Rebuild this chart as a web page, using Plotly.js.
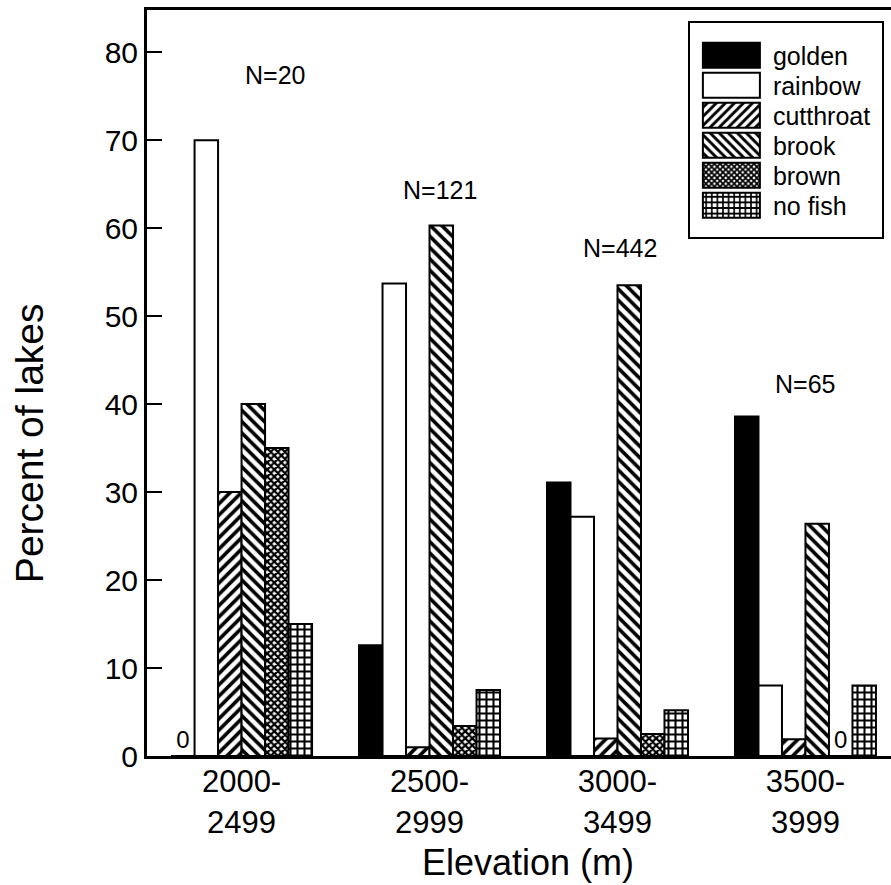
<!DOCTYPE html>
<html><head><meta charset="utf-8">
<script src="https://cdn.plot.ly/plotly-3.0.1.min.js"></script>
<style>html,body{margin:0;padding:0;background:#fff}#chart{width:891px;height:885px}</style>
</head><body><div id="chart"></div>
<script>
// ---- data ----
const categories = ['2000-<br>2499', '2500-<br>2999', '3000-<br>3499', '3500-<br>3999'];
const seriesNames = ['golden', 'rainbow', 'cutthroat', 'brook', 'brown', 'no fish'];
const golden    = [0, 12.6, 31.1, 38.6];
const rainbow   = [70, 53.7, 27.2, 8.0];
const cutthroat = [30, 1.0, 2.0, 1.9];
const brook     = [40, 60.3, 53.5, 26.4];
const brown     = [35, 3.4, 2.5, 0];
const noFish    = [15, 7.5, 5.2, 8.0];
const sampleSizes = ['N=20', 'N=121', 'N=442', 'N=65'];
const yTickVals = [0, 10, 20, 30, 40, 50, 60, 70, 80];

// ---- styling ----
const FONT = '"Liberation Sans", Arial, sans-serif';
const seriesValues = [golden, rainbow, cutthroat, brook, brown, noFish];
const fills = [
  {color: 'black', pattern: null},
  {color: 'white', pattern: null},
  {color: 'white', pattern: {shape: '/', fgcolor: 'black', bgcolor: 'white', size: 8, solidity: 0.45}},
  {color: 'white', pattern: {shape: '\\', fgcolor: 'black', bgcolor: 'white', size: 8, solidity: 0.45}},
  {color: 'white', pattern: {shape: 'x', fgcolor: 'black', bgcolor: 'white', size: 5, solidity: 0.7}},
  {color: 'white', pattern: {shape: '+', fgcolor: 'black', bgcolor: 'white', size: 7, solidity: 0.5}}
];

const traces = seriesNames.map((name, i) => {
  const marker = {color: fills[i].color, line: {color: 'black', width: 2}};
  if (fills[i].pattern) marker.pattern = fills[i].pattern;
  return {
    type: 'bar', name: name, x: categories, y: seriesValues[i],
    marker: marker,
    text: seriesValues[i].map(v => v === 0 ? '0' : ''),
    textposition: 'outside', cliponaxis: false,
    textfont: {family: FONT, size: 24, color: 'black'},
    hoverinfo: 'skip'
  };
});

// N label positions (category index offset, value)
const nLabelPos = [[0.18, 77.4], [1.056, 64.3], [2.013, 57.7], [3.0, 42.3]];
const annotations = sampleSizes.map((t, i) => ({
  x: nLabelPos[i][0], y: nLabelPos[i][1], xref: 'x', yref: 'y', text: t,
  showarrow: false, font: {family: FONT, size: 25, color: 'black'}
}));
annotations.push({
  xref: 'paper', yref: 'paper', x: -0.158, y: 0.42, xanchor: 'center', yanchor: 'middle',
  text: 'Percent of lakes', textangle: -90, showarrow: false,
  font: {family: FONT, size: 39, color: 'black'}
});
annotations.push({
  xref: 'paper', yref: 'paper', x: 0.512, y: -0.143, xanchor: 'center', yanchor: 'middle',
  text: 'Elevation (m)', showarrow: false,
  font: {family: FONT, size: 36, color: 'black'}
});

const layout = {
  width: 891, height: 885,
  margin: {l: 147, r: 0, t: 10, b: 129},
  paper_bgcolor: 'white', plot_bgcolor: 'white',
  font: {family: FONT, color: 'black'},
  barmode: 'group', bargap: 0.25, bargroupgap: 0,
  showlegend: true,
  legend: {
    x: 0.727, y: 0.985, xanchor: 'left', yanchor: 'top',
    bordercolor: 'black', borderwidth: 2, bgcolor: 'white',
    font: {family: FONT, size: 25, color: 'black'},
    itemwidth: 73, tracegroupgap: 0, traceorder: 'normal'
  },
  xaxis: {
    type: 'category', range: [-0.503, 3.455],
    showline: true, linecolor: 'black', linewidth: 3, mirror: true,
    ticks: '', showgrid: false, zeroline: false, ticklabelstandoff: -4,
    tickfont: {family: FONT, size: 31, color: 'black'}
  },
  yaxis: {
    range: [0, 84.8], tickvals: yTickVals, ticktext: yTickVals.map(String),
    showline: true, linecolor: 'black', linewidth: 3,
    ticks: 'inside', ticklen: 15, tickwidth: 2, tickcolor: 'black',
    showgrid: false, zeroline: false,
    tickfont: {family: FONT, size: 30, color: 'black'}
  },
  annotations: annotations
};

Plotly.newPlot('chart', traces, layout, {staticPlot: true}).then(gd => {
  const legendEl = document.querySelector('.legend');
  if (!legendEl) return;
  // wide legend swatches like the reference
  legendEl.querySelectorAll('.legendpoints path').forEach(p => {
    p.setAttribute('d', 'M28.5,12.5H-28.5V-12.5H28.5Z');
  });
  // tighter item spacing (30 px) like the reference
  const items = Array.from(legendEl.querySelectorAll('g.traces'));
  const bg = legendEl.querySelector('rect.bg');
  if (!items.length || !bg) return;
  const m = (items[0].getAttribute('transform') || '').match(/translate\(([-\d.e]+)[ ,]+([-\d.e]+)\)/);
  if (!m) return;
  const x0 = +m[1], y0 = +m[2];
  const bgR = bg.getBoundingClientRect();
  const pR = items[0].querySelector('.legendpoints path').getBoundingClientRect();
  const delta = 33 - ((pR.top + pR.bottom) / 2 - bgR.top);
  items.forEach((it, i) => it.setAttribute('transform', 'translate(' + x0 + ',' + (y0 + delta + i * 30) + ')'));
  bg.setAttribute('height', 216);
  const w = parseFloat(bg.getAttribute('width'));
  if (!isNaN(w)) bg.setAttribute('width', Math.min(w + 6, 891 - 688 - 9));
});
</script>
</body></html>
